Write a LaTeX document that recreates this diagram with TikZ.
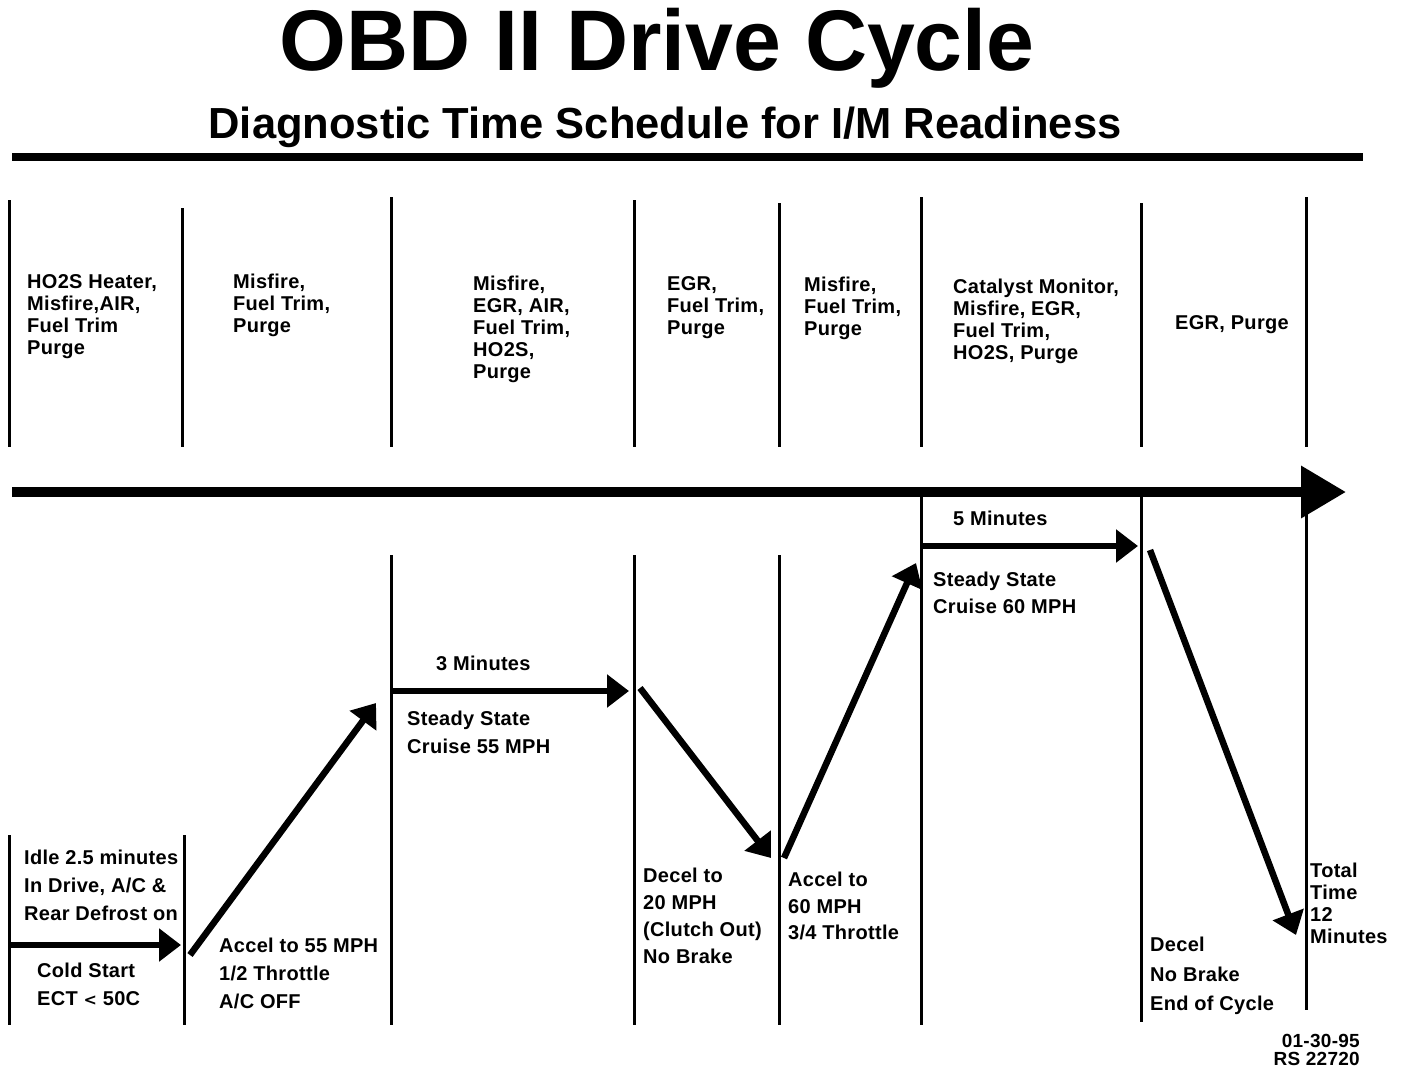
\documentclass[tikz,border=0pt]{standalone}
\usepackage{fontspec}
\setmainfont{Liberation Sans}
\newfontfamily\bodyfont{Liberation Sans}[LetterSpace=1.5]
\usetikzlibrary{arrows.meta}
\tikzset{
  vline/.style={line width=3pt},
  rule/.style={line width=8pt},
  bigarrow/.style={line width=10pt,-{Triangle[length=45pt,width=50pt]}},
  steparrow/.style={line width=6.5pt,-{Triangle[length=22pt,width=32pt]}},
  toplabel/.style={anchor=north west,inner sep=0pt,align=left,font=\bodyfont\fontsize{20}{22}\selectfont\bfseries},
  botlabel/.style={anchor=north west,inner sep=0pt,align=left,font=\bodyfont\fontsize{20}{28}\selectfont\bfseries},
}
\begin{document}
\begin{tikzpicture}[x=1pt,y=-1pt]
\useasboundingbox (0,0) rectangle (1408,1072);
% titles
\node[anchor=base,inner sep=0pt,font=\fontsize{86}{90}\selectfont\bfseries] (title) at (657,70) {OBD II Drive Cycle};
\node[anchor=base,inner sep=0pt,font=\fontsize{43.5}{48}\selectfont\bfseries] (subtitle) at (665,138) {Diagnostic Time Schedule for I/M Readiness};
\draw[rule] (12,157) -- (1363,157);
% top vertical lines
\foreach \x/\ya in {9/200,182/208,391/197,634/200,779/203,921/197,1141/203,1306/197}
  \draw[vline] (\x,\ya) -- (\x,447);
% big time arrow
\coordinate (ta) at (12,492);
\coordinate (tb) at (1346,492);
\draw[bigarrow] (ta) -- (tb);
% bottom vertical lines
\foreach \x/\ya/\yb in {9/835/1025,184/835/1025,391/555/1025,634/555/1025,779/555/1025,921/497/1025,1141/497/1022,1306/497/1010}
  \draw[vline] (\x,\ya) -- (\x,\yb);
% top labels
\node[toplabel] (m1) at (27,274) {HO2S Heater,\\Misfire,AIR,\\Fuel Trim\\Purge};
\node[toplabel] (m2) at (233,274) {Misfire,\\Fuel Trim,\\Purge};
\node[toplabel] (m3) at (473,276) {Misfire,\\EGR, AIR,\\Fuel Trim,\\HO2S,\\Purge};
\node[toplabel] (m4) at (667,276) {EGR,\\Fuel Trim,\\Purge};
\node[toplabel] (m5) at (804,277) {Misfire,\\Fuel Trim,\\Purge};
\node[toplabel] (m6) at (953,279) {Catalyst Monitor,\\Misfire, EGR,\\Fuel Trim,\\HO2S, Purge};
\node[toplabel] (m7) at (1175,315) {EGR, Purge};
% speed profile
\coordinate (p1a) at (9,945);   \coordinate (p1b) at (181,945);
\coordinate (p2a) at (190,955); \coordinate (p2b) at (376,703);
\coordinate (p3a) at (391,691); \coordinate (p3b) at (629,691);
\coordinate (p4a) at (640,688); \coordinate (p4b) at (771,858);
\coordinate (p5a) at (784,858); \coordinate (p5b) at (916,563);
\coordinate (p6a) at (921,546); \coordinate (p6b) at (1138,546);
\coordinate (p7a) at (1150,550);\coordinate (p7b) at (1296,935);
\foreach \i in {1,...,7} \draw[steparrow] (p\i a) -- (p\i b);
% bottom labels
\node[botlabel] (idle) at (24,850) {Idle 2.5 minutes\\In Drive, A/C \&\\Rear Defrost on};
\node[botlabel] (cold) at (37,963) {Cold Start\\ECT {\fontspec{DejaVu Sans}\fontsize{16}{28}\selectfont <} 50C};
\node[botlabel] (acc1) at (219,938) {Accel to 55 MPH\\1/2 Throttle\\A/C OFF};
\node[toplabel] (min3) at (436,656) {3 Minutes};
\node[botlabel] (cr55) at (407,711) {Steady State\\Cruise 55 MPH};
\node[botlabel,font=\bodyfont\fontsize{20}{27}\selectfont\bfseries] (dec1) at (643,868) {Decel to\\20 MPH\\(Clutch Out)\\No Brake};
\node[botlabel,font=\bodyfont\fontsize{20}{26.5}\selectfont\bfseries] (acc2) at (788,872) {Accel to\\60 MPH\\3/4 Throttle};
\node[toplabel] (min5) at (953,511) {5 Minutes};
\node[botlabel,font=\bodyfont\fontsize{20}{27}\selectfont\bfseries] (cr60) at (933,572) {Steady State\\Cruise 60 MPH};
\node[botlabel,font=\bodyfont\fontsize{20}{29.5}\selectfont\bfseries] (dec2) at (1150,937) {Decel\\No Brake\\End of Cycle};
\node[toplabel] (total) at (1310,863) {Total\\Time\\12\\Minutes};
\node[anchor=north east,inner sep=0pt,align=right,font=\bodyfont\fontsize{19}{18}\selectfont\bfseries] (code) at (1360,1034) {01-30-95\\RS 22720};
\end{tikzpicture}
\end{document}
